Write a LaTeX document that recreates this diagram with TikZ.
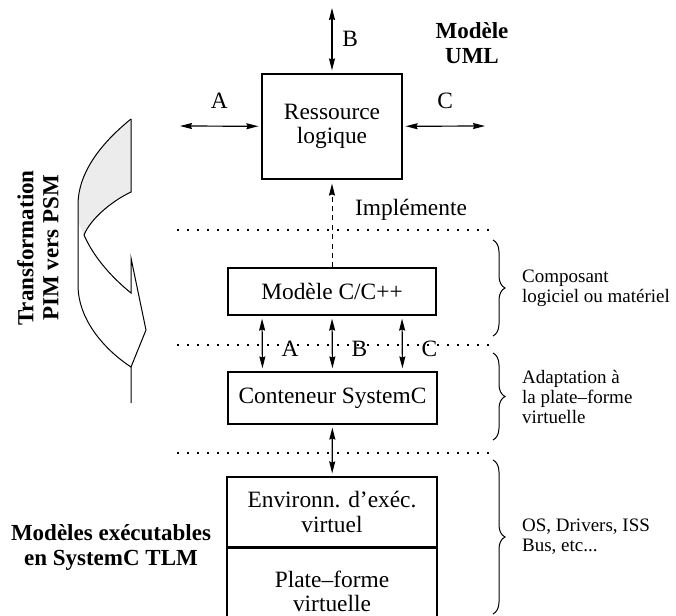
\documentclass[tikz,border=0pt]{standalone}
\usepackage{fontspec}
\setmainfont{Liberation Serif}
\usetikzlibrary{arrows.meta, positioning, decorations.pathreplacing}

\begin{document}
\begin{tikzpicture}[x=0.5pt, y=-0.5pt, >={Stealth[length=6pt, width=3pt, inset=0.6pt]},
    line width=0.6pt, font=\fontsize{11.7}{12.2}\selectfont,
    bloc/.style={draw, align=center, inner sep=0pt},
    lien/.style={<->, shorten <=1.5pt, shorten >=1.5pt},
    pointilles/.style={line width=0.8pt, dash pattern=on 0.8pt off 4.2pt},
    accolade/.style={decorate, decoration={brace, amplitude=6pt}, line width=0.5pt},
    note/.style={align=left, font=\fontsize{9.5}{10}\selectfont},
    titre/.style={align=center, font=\bfseries\fontsize{11.5}{12.5}\selectfont}]
    \clip (0,0) rectangle (676,616);

    % Transformation arrow
    \fill [gray!15] (131,119) .. controls (105,140) and (78,170) .. (78,205) -- (78,222)
        -- (84,235) .. controls (90,220) and (110,202) .. (131,192) -- cycle;
    \draw [line width=0.5pt] (131,119) .. controls (105,140) and (78,170) .. (78,205) -- (78,285)
        .. controls (78,320) and (105,350) .. (131,367) -- (131,403);
    \draw [line width=0.5pt] (131,119) -- (131,192) .. controls (110,202) and (90,220) .. (84,235)
        .. controls (95,260) and (115,280) .. (131,293) -- (131,258) -- (146,330) -- (131,367);
    \node [titre, rotate=90] (transfo) at (38,248) {Transformation\\PIM vers PSM};

    % UML level
    \node [bloc, minimum width=70pt, minimum height=52.5pt] (res) at (332,126.5) {Ressource\\logique};
    \node [titre] (uml) at (472,43) {Modèle\\UML};
    \coordinate (hautB) at (332,5);
    \coordinate (gaucheA) at (177,126);
    \coordinate (droiteC) at (488,126);
    \draw [lien] (hautB) -- node[right=1.5pt] {B} (res);
    \draw [lien] (gaucheA) -- node[above=5pt] {A} (res);
    \draw [lien] (res) -- node[above=5pt] {C} (droiteC);

    % SystemC levels
    \node [bloc, minimum width=104pt, minimum height=23.5pt] (cpp) at (332,291.5) {Modèle C/C++};
    \node [bloc, minimum width=104.5pt, minimum height=26pt] (cont) at (332.5,398) {Conteneur SystemC};
    \node [bloc, minimum width=105pt, minimum height=35pt] (env) at (332,512) {Environn. d'exéc.\\virtuel};
    \node [bloc, minimum width=105pt, minimum height=43pt, anchor=north] (plate) at (env.south) {Plate--forme\\virtuelle};
    \node [titre] (tlm) at (111,547) {Modèles exécutables\\en SystemC TLM};

    \draw [->, line width=0.5pt, dash pattern=on 2.5pt off 2.2pt, shorten >=2pt] (cpp) -- node[pos=0.65, right=8pt] {Implémente} (res);
    \foreach \dx/\lettre in {-35/A, 0/B, 35/C}
        \draw [lien] ([xshift=\dx pt]cpp.south) -- node[pos=0.6, right=6pt] {\lettre} ([xshift=\dx pt]cont.north);
    \draw [lien] (cont) -- (env);

    % Separators
    \foreach \y in {230,345,453}
        \draw [pointilles] (177,\y) -- (495,\y);

    % Braces
    \draw [accolade] (493,240) -- node[note, right=11pt] {Composant\\logiciel ou matériel} (493,336);
    \draw [accolade] (493,353) -- node[note, right=11pt] {Adaptation à\\la plate--forme\\virtuelle} (493,440);
    \draw [accolade] (493,460) -- node[note, right=11pt] {OS, Drivers, ISS\\Bus, etc...} (493,614);
\end{tikzpicture}
\end{document}
